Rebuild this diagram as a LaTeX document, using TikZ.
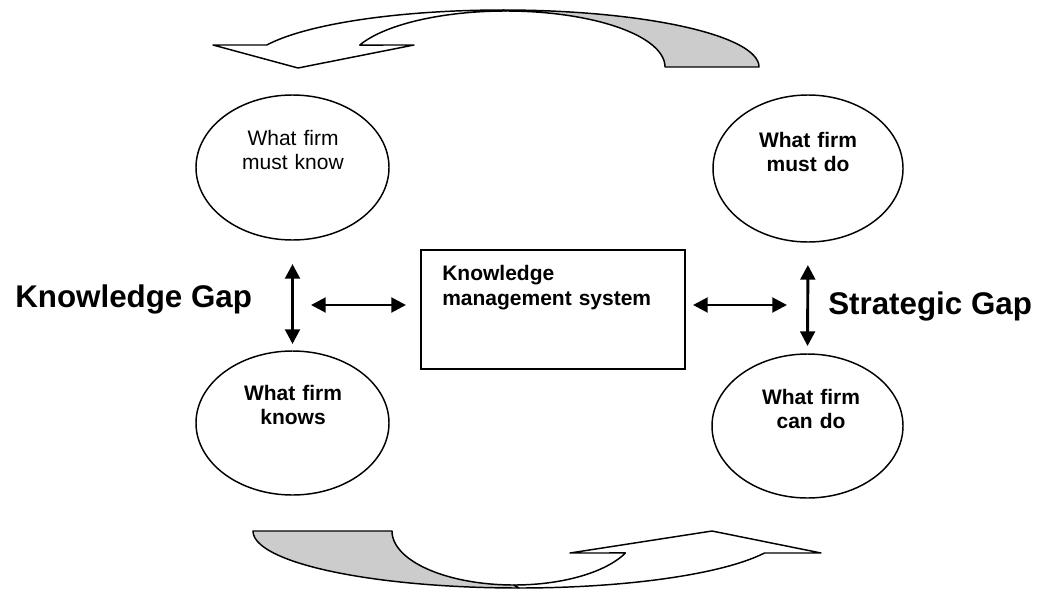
\documentclass[tikz,border=0pt]{standalone}
\usepackage{fontspec}
\setmainfont{Liberation Sans}
\usetikzlibrary{shapes.geometric,arrows.meta}
\definecolor{ribbongray}{HTML}{CCCCCC}
\begin{document}
\begin{tikzpicture}[x=0.75pt,y=-0.75pt,
  oval/.style={draw,ellipse,line width=1.1pt,inner sep=0pt,outer sep=0pt},
  ovaltext/.style={anchor=base,inner sep=0pt,text width=135pt,align=center,
    font=\fontsize{15.75}{18}\selectfont},
  boldtext/.style={ovaltext,font=\fontsize{15.75}{18}\selectfont\bfseries},
  gaparrow/.style={line width=2.2pt,
    {Triangle[length=11pt,width=11pt]}-{Triangle[length=11pt,width=11pt]}},
  ribbon/.style={line width=1.1pt,line join=round},
  biglabel/.style={anchor=base west,inner sep=0pt,
    font=\fontsize{23.5}{28}\selectfont\bfseries}
]
\useasboundingbox (0,0) rectangle (1037,592);

% curved arrow over the top (back part shaded)
\filldraw[ribbon,fill=ribbongray]
  plot[domain=270:360,variable=\t,samples=60] ({503+256*cos(\t)},{67+57*sin(\t)})
  -- plot[domain=360:270,variable=\t,samples=60] ({506+159*cos(\t)},{67+56*sin(\t)})
  -- cycle;
\filldraw[ribbon,fill=white]
  plot[domain=202.7:270,variable=\t,samples=50] ({503+256*cos(\t)},{67+57*sin(\t)})
  -- plot[domain=270:203.1,variable=\t,samples=50] ({506+159*cos(\t)},{67+56*sin(\t)})
  -- (414,45) -- (298,68) -- (213,45) -- cycle;

% curved arrow along the bottom (back part shaded)
\filldraw[ribbon,fill=ribbongray]
  plot[domain=180:90,variable=\t,samples=60] ({519+266*cos(\t)},{531+57*sin(\t)})
  -- plot[domain=90:180,variable=\t,samples=60] ({514+122*cos(\t)},{531+54*sin(\t)})
  -- cycle;
\filldraw[ribbon,fill=white]
  plot[domain=90:22.7,variable=\t,samples=50] ({519+266*cos(\t)},{531+57*sin(\t)})
  -- (821,553) -- (712,531) -- (570,553)
  -- plot[domain=24:90,variable=\t,samples=50] ({514+122*cos(\t)},{531+54*sin(\t)})
  -- cycle;

% the four ovals
\node[oval,minimum width=144.75pt,minimum height=108.75pt] (tl) at (292.5,167.5) {};
\node[oval,minimum width=142.5pt,minimum height=110.25pt] (tr) at (808,168.5) {};
\node[oval,minimum width=144.75pt,minimum height=108pt] (bl) at (292.5,423) {};
\node[oval,minimum width=143.25pt,minimum height=108pt] (br) at (807.5,426) {};

\node[ovaltext] (tltext) at (293,145) {What firm\\must know};
\node[boldtext] (trtext) at (808,147) {What firm\\must do};
\node[boldtext] (bltext) at (293,400) {What firm\\knows};
\node[boldtext] (brtext) at (811,404) {What firm\\can do};

% central box
\node[draw,line width=1.5pt,minimum width=198pt,minimum height=89.25pt,
  inner sep=0pt,outer sep=0pt] (kms) at (553,309.5) {};
\node[anchor=base west,inner sep=0pt,text width=180pt,align=left,
  font=\fontsize{15.75}{18.75}\selectfont\bfseries] (kmstext) at (442,280)
  {Knowledge\\management system};

% gap arrows
\draw[gaparrow,shorten <=18pt,shorten >=5.25pt] (tl.south) -- (bl.north);
\draw[gaparrow,shorten <=17.25pt,shorten >=6pt] (tr.south) -- (br.north);

\coordinate (linkLa) at (311,305);
\coordinate (linkLb) at (406,305);
\coordinate (linkRa) at (693,305);
\coordinate (linkRb) at (787,305);
\draw[gaparrow] (linkLa) -- (linkLb);
\draw[gaparrow] (linkRa) -- (linkRb);

% side labels
\node[biglabel] (kgap) at (15,307) {Knowledge Gap};
\node[biglabel] (sgap) at (828,314) {Strategic Gap};
\end{tikzpicture}
\end{document}
